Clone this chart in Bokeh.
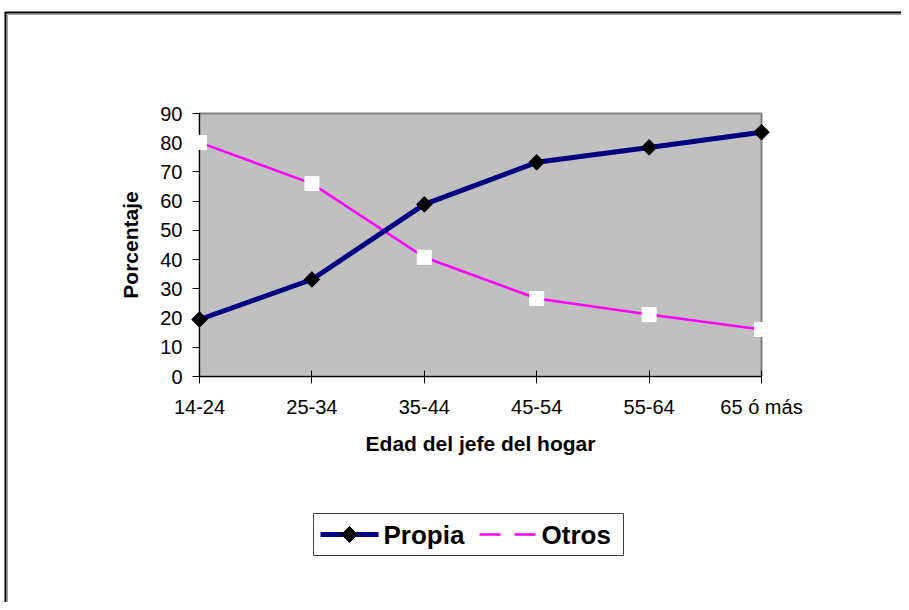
import math
from bokeh.plotting import figure
from bokeh.models import Range1d, FixedTicker, ColumnDataSource
from bokeh.core.properties import value
from bokeh.embed import file_html
from bokeh.resources import INLINE

categories = ["14-24", "25-34", "35-44", "45-54", "55-64", "65 ó más"]
propia = [19.5, 33.2, 58.9, 73.3, 78.4, 83.6]
otros = [80.1, 66.0, 40.8, 26.7, 21.2, 16.1]
y_ticks = [0, 10, 20, 30, 40, 50, 60, 70, 80, 90]
series_names = ["Propia", "Otros"]

FONT = "Liberation Sans"
W, H = 901, 602
FL, FR, FT, FB = 199, 761, 113, 376          # frame edges in canvas pixels
X0, X1 = 0, len(categories) - 1
Y0, Y1 = 0, 90

def xpx(px):
    return X0 + (px - FL) / (FR - FL) * (X1 - X0)

def ypx(py):
    return Y0 + (FB - py) / (FB - FT) * (Y1 - Y0)

xs = list(range(len(categories)))
src = ColumnDataSource(dict(x=xs, propia=propia, otros=otros))

p = figure(width=W, height=H, output_backend="svg", toolbar_location=None,
           x_range=Range1d(X0, X1), y_range=Range1d(Y0, Y1),
           min_border_left=FL, min_border_right=W - FR, min_border_top=FT, min_border_bottom=H - FB)
p.background_fill_color = "#C0C0C0"
p.border_fill_color = "white"
p.outline_line_color = "#808080"
p.outline_line_width = 2
p.grid.visible = False

# axes
p.xaxis.ticker = FixedTicker(ticks=xs)
p.xaxis.major_label_overrides = {i: c for i, c in enumerate(categories)}
p.yaxis.ticker = FixedTicker(ticks=y_ticks)
for ax in (p.xaxis[0], p.yaxis[0]):
    ax.axis_line_color = "black"
    ax.major_tick_line_color = "black"
    ax.minor_tick_line_color = None
    ax.major_label_text_font = FONT
    ax.major_label_text_font_size = "20px"
    ax.major_label_text_color = "black"
    ax.axis_label_text_font = FONT
    ax.axis_label_text_font_size = "21px"
    ax.axis_label_text_font_style = "bold"
    ax.axis_label_text_color = "black"
p.xaxis.major_tick_in = 6
p.xaxis.major_tick_out = 7
p.xaxis.major_label_standoff = 12
p.xaxis.axis_label = "Edad del jefe del hogar"
p.xaxis.axis_label_standoff = 11
p.yaxis.major_tick_in = 0
p.yaxis.major_tick_out = 7
p.yaxis.major_label_standoff = 10
p.yaxis.axis_label = "Porcentaje"
p.yaxis.axis_label_standoff = 15

NAVY, MAGENTA = "#000080", "#FF00FF"

# series
p.line("x", "otros", source=src, line_color=MAGENTA, line_width=2.5, level="overlay")
p.scatter("x", "otros", source=src, marker="square", size=14, fill_color="white",
          line_color="white", level="overlay")
p.line("x", "propia", source=src, line_color=NAVY, line_width=5, level="overlay")
p.scatter("x", "propia", source=src, marker="square", angle=math.pi / 4, size=11,
          fill_color="black", line_color="black", level="overlay")

# legend (drawn with overlay-level glyphs, positioned in pixels)
p.quad(left=[xpx(313)], right=[xpx(623)], top=[ypx(513)], bottom=[ypx(555)],
       fill_color="white", line_color="#404040", line_width=1, level="overlay")
LY = 534
ly = ypx(LY)
p.line([xpx(320), xpx(378)], [ly, ly], line_color=NAVY, line_width=5, level="overlay")
d = 8
p.patch([xpx(349 - d), xpx(349), xpx(349 + d), xpx(349)],
        [ly, ypx(LY - d), ly, ypx(LY + d)],
        fill_color="black", line_color="black", line_width=1, level="overlay")
p.line([xpx(479), xpx(535)], [ly, ly], line_color=MAGENTA, line_width=2.5, level="overlay")
p.quad(left=[xpx(500)], right=[xpx(514)], top=[ypx(LY - 7)], bottom=[ypx(LY + 7)],
       fill_color="white", line_color=None, level="overlay")
p.text(x=[xpx(383), xpx(541)], y=[ly, ly], text=series_names,
       text_font=value(FONT), text_font_size="26px", text_font_style="bold",
       text_color="black", text_baseline="middle", text_align="left", level="overlay")

# outer chart border (top and left edges visible in the reference)
p.line([xpx(5), xpx(5), xpx(W + 20)], [ypx(H + 20), ypx(12), ypx(12)],
       line_color="black", line_width=2, level="overlay")
p.line([xpx(7), xpx(7), xpx(W + 20)], [ypx(H + 20), ypx(14), ypx(14)],
       line_color="#A0A0A0", line_width=1, level="overlay")

open("out.html", "w").write(file_html(p, INLINE))
